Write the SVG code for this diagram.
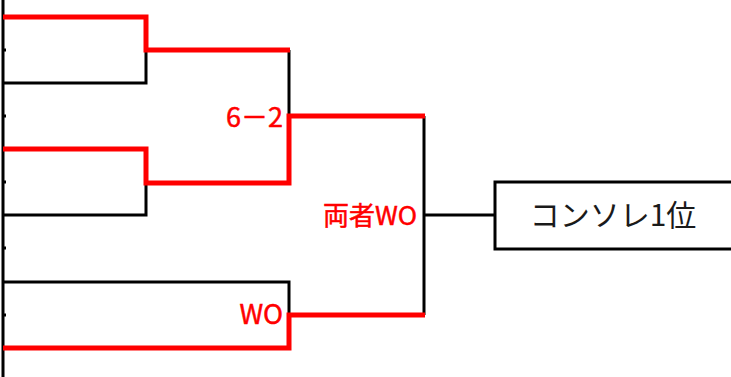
<svg xmlns="http://www.w3.org/2000/svg" width="731" height="377" viewBox="0 0 731 377">
<style>
.blk{fill:none;stroke:#000;stroke-width:3;stroke-linejoin:miter}
.red{fill:none;stroke:#ff0000;stroke-width:5;stroke-linejoin:miter}
.lbl{fill:#ff0000;stroke:#ff0000;stroke-width:0.5;font-family:"Noto Sans CJK JP","Noto Sans",sans-serif;text-anchor:end}
.box{fill:#fff;stroke:#000;stroke-width:3}
.boxtxt{fill:#1a1a1a;font-family:"Noto Sans CJK JP","Noto Sans",sans-serif;font-size:30px;text-anchor:middle}
</style>
<rect width="731" height="377" fill="#fff"/>
<g id="connectors">
  <path class="blk" d="M3,0V377M3,50H6M3,116H6M3,182H6M3,248H6M3,315H6"/>
  <path class="blk" d="M146,50V83H3"/>
  <path class="blk" d="M289,50V116"/>
  <path class="blk" d="M146,183V215H3"/>
  <path class="blk" d="M3,282H289V315"/>
  <path class="blk" d="M424,116V315M424,215H495"/>
  <path class="red" d="M3,17H146V50H290"/>
  <path class="red" d="M3,149H146V183H289V116H425"/>
  <path class="red" d="M3,348H289V315H425"/>
</g>
<g id="score1"><text class="lbl" x="283" y="127" font-size="27">6－2</text></g>
<g id="score2"><text class="lbl" x="417" y="225" font-size="26">両者WO</text></g>
<g id="score3"><text class="lbl" x="283" y="324" font-size="27">WO</text></g>
<g id="result">
  <rect class="box" x="495" y="182" width="260" height="67"/>
  <text class="boxtxt" x="613" y="226">コンソレ1位</text>
</g>
</svg>
